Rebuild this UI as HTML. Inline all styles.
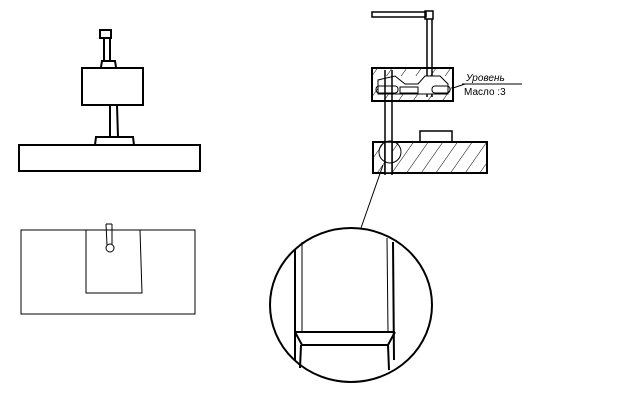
<!DOCTYPE html>
<html><head><style>html,body{margin:0;padding:0;background:#fff}svg{display:block}</style></head><body>
<svg width="640" height="400" viewBox="0 0 640 400" xmlns="http://www.w3.org/2000/svg">
<defs>
<pattern id="h" patternUnits="userSpaceOnUse" width="12" height="12" patternTransform="rotate(35)">
<line x1="0" y1="0" x2="0" y2="12" stroke="#000" stroke-width="1"/>
</pattern>
</defs>
<g fill="none" stroke="#000" stroke-width="2">
<!-- left top drawing -->
<rect x="100" y="30" width="11" height="8"/>
<line x1="104" y1="38" x2="104" y2="62"/><line x1="110" y1="38" x2="110" y2="62"/>
<path d="M101 67 L102 61 L115 61 L116 67"/>
<rect x="82" y="68" width="61" height="37"/>
<line x1="110" y1="105" x2="110" y2="137"/><line x1="117" y1="105" x2="118" y2="137"/>
<path d="M95 145 L96 137 L133 137 L134 145"/>
<rect x="19" y="145" width="181" height="26"/>
</g>
<g fill="none" stroke="#000" stroke-width="1">
<rect x="21" y="230" width="174" height="84"/>
<path d="M86 230 L86 293 L142 293 L140 230"/>
<line x1="106" y1="224" x2="107" y2="245"/><line x1="112" y1="224" x2="112" y2="245"/>
<line x1="106" y1="224" x2="112" y2="224"/>
<circle cx="110" cy="248" r="4"/>
<!-- right drawing -->
<rect x="372" y="12" width="54" height="5" stroke-width="1.5"/>
<rect x="425" y="11" width="8" height="8" stroke-width="1.5"/>
<line x1="427" y1="19" x2="427" y2="97" stroke-width="1.5"/><line x1="432" y1="19" x2="432" y2="97" stroke-width="1.5"/>
<rect x="372" y="68" width="81" height="33" fill="url(#h)" stroke-width="2"/>
<rect x="378" y="76" width="70" height="18" fill="#fff" stroke="none"/>
<path d="M378 80 L395 76 L405 84 L418 84 L425 76 L440 76 L448 84 L448 94 L378 94 Z" fill="#fff" stroke-width="1"/>
<rect x="376" y="86" width="22" height="7" rx="3"/>
<rect x="400" y="87" width="18" height="6"/>
<rect x="432" y="86" width="18" height="7" rx="3"/>
<line x1="385" y1="70" x2="385" y2="175" stroke-width="1.5"/><line x1="392" y1="70" x2="392" y2="175" stroke-width="1.5"/>
<line x1="453" y1="88" x2="465" y2="84"/>
<line x1="462" y1="84" x2="522" y2="84"/>
<text x="466" y="81" font-family="Liberation Sans, sans-serif" font-size="10" font-style="italic" fill="#000" stroke="none">Уровень</text>
<text x="464" y="95" font-family="Liberation Sans, sans-serif" font-size="10" fill="#000" stroke="none">Масло :3</text>
<rect x="420" y="131" width="32" height="11" stroke-width="1.5"/>
<rect x="373" y="142" width="114" height="31" fill="url(#h)" stroke-width="2"/>
<rect x="385" y="142" width="7" height="31" fill="#fff" stroke-width="1.5"/>
<circle cx="390" cy="152" r="11"/>
<line x1="383" y1="165" x2="361" y2="228"/>
<!-- detail circle -->
<ellipse cx="351" cy="305" rx="81" ry="77" stroke-width="2"/>
<line x1="295" y1="250" x2="295" y2="360" stroke-width="2"/>
<line x1="302" y1="242" x2="302" y2="332"/>
<line x1="387" y1="238" x2="388" y2="332"/>
<line x1="393" y1="242" x2="394" y2="360" stroke-width="2"/>
<line x1="295" y1="332" x2="395" y2="332" stroke-width="2"/>
<path d="M295 332 L302 345 L388 345 L395 332" stroke-width="2"/>
<line x1="301" y1="345" x2="300" y2="368" stroke-width="2"/>
<line x1="388" y1="345" x2="389" y2="370" stroke-width="2"/>
</g>
</svg>
</body></html>
